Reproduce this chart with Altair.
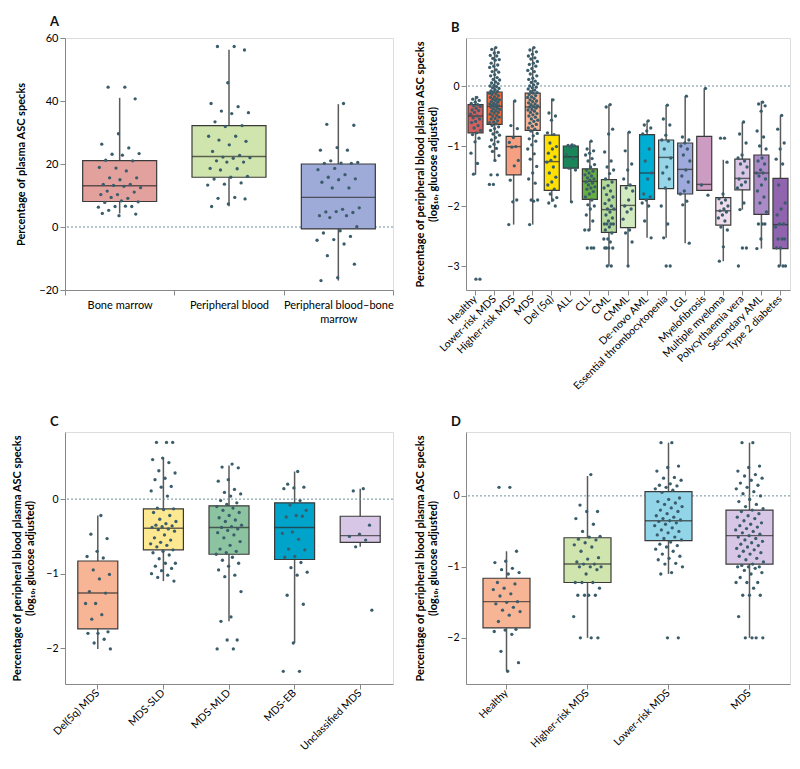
import altair as alt
import pandas as pd

FONT = "Lato"
PT_COLOR = "#3b5d6b"
ZERO_COLOR = "#6f8f9c"

# ---------------- Panel A ----------------
a_cats = ["Bone marrow", "Peripheral blood", "Peripheral blood\u2013bone marrow"]
a_colors = ["#e3a19e", "#d0e5ad", "#9eabd8"]
a_lo = [4.3, 6.6, -17.0]
a_q1 = [8.1, 15.8, -0.6]
a_med = [13.1, 22.4, 9.4]
a_q3 = [21.1, 32.2, 20.0]
a_hi = [41.0, 56.3, 39.0]
a_pts = [
    [44.4, 44.4, 40.7, 29.6, 26.3, 25.1, 23.1, 23.3, 22.8, 21.2, 21.0, 18.7, 18.9, 17.8, 15.6, 15.6,
     15.0, 13.5, 13.5, 13.2, 12.5, 12.9, 11.4, 11.1, 10.3, 10.3, 9.1, 9.4, 8.0, 8.3, 7.8, 6.5, 6.5,
     6.3, 6.6, 5.3, 4.1, 3.6, 4.3],
    [57.3, 57.3, 56.2, 45.8, 39.2, 38.2, 36.8, 36.3, 36.0, 33.4, 32.2, 31.9, 28.8, 28.8, 27.6, 27.2,
     26.1, 24.0, 22.7, 22.2, 22.0, 21.8, 21.0, 20.6, 20.6, 18.6, 18.5, 18.1, 16.1, 15.8, 15.2, 14.0,
     13.6, 13.3, 9.4, 9.1, 8.9, 7.3, 6.5],
    [39.2, 32.6, 32.3, 25.2, 24.4, 24.4, 21.0, 20.5, 20.3, 20.2, 20.2, 18.6, 18.2, 16.6, 15.8, 15.3,
     15.0, 14.2, 12.4, 12.4, 6.1, 5.6, 4.8, 4.6, 4.9, 3.6, 3.6, 3.0, 0.1, -1.2, -1.9, -3.0, -4.0,
     -4.2, -5.4, -9.1, -11.8, -16.1, -17.0],
]

# ---------------- Panel B ----------------
b_cats = ["Healthy", "Lower-risk MDS", "Higher-risk MDS", "MDS", "Del (5q)", "ALL", "CLL", "CML",
          "CMML", "De-novo AML", "Essential thrombocytopenia", "LGL", "Myelofibrosis",
          "Multiple myeloma", "Polycythaemia vera", "Secondary AML", "Type 2 diabetes"]
b_colors = ["#d4605f", "#f26b3a", "#f7a081", "#f7b394", "#ffe000", "#1a8559", "#67ae45", "#b5d89b",
            "#d2eabf", "#00aed4", "#96d6e8", "#9daadb", "#cc9cc2", "#f0ddeb", "#d9c6e4", "#aa8bc7",
            "#9164b0"]
b_lo = [-1.48, -1.24, -2.31, -2.31, -1.93, -1.93, -2.41, -3.0, -3.0, -2.53, -2.53, -2.62, -1.74,
        -2.92, -2.06, -2.71, -3.0]
b_q1 = [-0.78, -0.64, -1.48, -0.74, -1.74, -1.37, -1.89, -2.44, -2.36, -1.89, -1.71, -1.80, -1.74,
        -2.32, -1.73, -2.14, -2.71]
b_med = [-0.50, -0.34, -1.01, -0.35, -1.26, -1.18, -1.59, -2.06, -1.99, -1.45, -1.19, -1.39, -1.64,
         -2.08, -1.54, -1.45, -2.31]
b_q3 = [-0.31, -0.10, -0.84, -0.12, -0.82, -1.00, -1.38, -1.56, -1.66, -0.81, -0.90, -0.95, -0.84,
        -1.86, -1.22, -1.15, -1.54]
b_hi = [-0.17, 0.64, -0.24, 0.64, -0.21, -0.98, -0.92, -0.31, -0.77, -0.58, -0.32, -0.17, -0.04,
        -1.23, -0.60, -0.25, -0.49]
b_pts = [
    [-0.19, -0.22, -0.24, -0.27, -0.29, -0.31, -0.33, -0.34, -0.37, -0.40, -0.41, -0.44, -0.47,
     -0.50, -0.53, -0.55, -0.59, -0.61, -0.66, -0.70, -0.74, -0.78, -0.81, -0.87, -0.93, -1.12,
     -1.29, -1.47, -3.22, -3.22],
    [0.64, 0.61, 0.56, 0.55, 0.51, 0.50, 0.46, 0.44, 0.43, 0.38, 0.35, 0.33, 0.31, 0.27, 0.24,
     0.23, 0.19, 0.17, 0.14, 0.11, 0.10, 0.07, 0.05, 0.04, 0.01, 0.00, -0.01, -0.03, -0.04, -0.06,
     -0.08, -0.09, -0.10, -0.12, -0.13, -0.14, -0.16, -0.18, -0.19, -0.21, -0.22, -0.23, -0.24,
     -0.26, -0.27, -0.29, -0.30, -0.31, -0.32, -0.33, -0.34, -0.35, -0.37, -0.38, -0.39, -0.41,
     -0.42, -0.44, -0.45, -0.47, -0.49, -0.50, -0.52, -0.54, -0.55, -0.58, -0.60, -0.61, -0.63,
     -0.66, -0.68, -0.71, -0.74, -0.77, -0.80, -0.82, -0.86, -0.90, -0.93, -0.97, -1.01, -1.04,
     -1.09, -1.16, -1.24, -1.48, -1.48, -1.64, -1.64],
    [-0.25, -0.66, -0.71, -0.86, -0.94, -1.01, -1.02, -1.24, -1.33, -1.57, -1.90, -1.93, -2.31],
    [0.64, 0.60, 0.57, 0.53, 0.50, 0.47, 0.45, 0.41, 0.38, 0.36, 0.33, 0.29, 0.26, 0.24, 0.20,
     0.17, 0.13, 0.11, 0.08, 0.06, 0.04, 0.02, 0.00, -0.02, -0.03, -0.05, -0.07, -0.09, -0.11,
     -0.12, -0.14, -0.16, -0.18, -0.19, -0.21, -0.23, -0.25, -0.26, -0.28, -0.30, -0.31, -0.33,
     -0.34, -0.35, -0.37, -0.39, -0.40, -0.42, -0.44, -0.46, -0.48, -0.50, -0.52, -0.55, -0.57,
     -0.59, -0.62, -0.64, -0.67, -0.70, -0.72, -0.75, -0.79, -0.83, -0.88, -0.92, -0.98, -1.05,
     -1.13, -1.22, -1.34, -1.45, -1.55, -1.62, -1.90, -1.90, -1.92, -2.31],
    [-0.23, -0.45, -0.50, -0.57, -0.78, -0.81, -0.95, -1.01, -1.05, -1.12, -1.18, -1.24, -1.27,
     -1.35, -1.45, -1.52, -1.60, -1.65, -1.72, -1.80, -1.86, -1.90, -1.95, -2.00],
    [-0.98, -0.99, -1.00, -1.02, -1.15, -1.20, -1.37, -1.40, -1.93],
    [-0.92, -1.05, -1.08, -1.12, -1.15, -1.21, -1.25, -1.31, -1.35, -1.40, -1.42, -1.45, -1.48,
     -1.50, -1.53, -1.55, -1.57, -1.60, -1.62, -1.65, -1.68, -1.70, -1.72, -1.76, -1.80, -1.85,
     -1.90, -1.98, -2.00, -2.05, -2.15, -2.25, -2.40, -2.40, -2.70, -2.70, -2.70],
    [-0.31, -0.35, -0.72, -0.80, -1.10, -1.25, -1.35, -1.40, -1.46, -1.55, -1.60, -1.66, -1.70,
     -1.75, -1.81, -1.85, -1.90, -1.96, -2.00, -2.05, -2.05, -2.10, -2.15, -2.20, -2.25, -2.30,
     -2.30, -2.30, -2.30, -2.35, -2.40, -2.45, -2.55, -2.55, -2.60, -2.70, -2.70, -2.70, -2.70,
     -3.00, -3.00],
    [-0.77, -1.08, -1.30, -1.40, -1.55, -1.65, -1.70, -1.75, -1.90, -2.00, -2.05, -2.10, -2.22,
     -2.40, -2.45, -2.60, -3.00],
    [-0.58, -0.65, -0.70, -0.75, -0.80, -1.05, -1.25, -1.45, -1.55, -1.80, -1.85, -1.90, -1.95,
     -2.00, -2.25, -2.53],
    [-0.32, -0.55, -0.65, -0.82, -0.90, -0.92, -1.05, -1.20, -1.35, -1.45, -1.55, -1.70, -2.00,
     -2.30, -2.53, -3.00, -3.00],
    [-0.17, -0.85, -0.90, -0.95, -1.00, -1.05, -1.15, -1.25, -1.40, -1.50, -1.60, -1.75, -1.80,
     -1.92, -1.98, -2.62],
    [-0.04, -1.65, -1.82],
    [-0.87, -0.87, -1.27, -1.80, -1.88, -1.90, -1.95, -2.00, -2.05, -2.08, -2.10, -2.15, -2.20,
     -2.25, -2.35, -2.40, -2.68, -2.92],
    [-0.60, -0.80, -0.95, -1.15, -1.20, -1.25, -1.30, -1.35, -1.45, -1.55, -1.60, -1.65, -1.70,
     -1.95, -2.06, -2.70, -2.70, -3.00],
    [-0.27, -0.30, -0.33, -0.42, -0.75, -0.85, -1.00, -1.05, -1.20, -1.25, -1.30, -1.40, -1.45,
     -1.45, -1.50, -1.55, -1.65, -1.75, -1.85, -1.95, -2.10, -2.30, -2.30, -2.30, -2.55, -2.71],
    [-0.49, -0.72, -0.95, -1.05, -1.22, -1.30, -1.65, -1.95, -2.05, -2.15, -2.30, -2.30, -2.35,
     -2.55, -2.55, -2.55, -2.70, -2.70, -3.00, -3.00, -3.00],
]

# ---------------- Panel C ----------------
c_cats = ["Del(5q) MDS", "MDS-SLD", "MDS-MLD", "MDS-EB", "Unclassified MDS"]
c_colors = ["#f8b595", "#fce890", "#8cc4a2", "#00a3ca", "#d8c6e6"]
c_lo = [-2.01, -1.10, -1.64, -1.93, -0.64]
c_q1 = [-1.74, -0.68, -0.74, -0.81, -0.58]
c_med = [-1.26, -0.39, -0.38, -0.38, -0.49]
c_q3 = [-0.83, -0.13, -0.09, -0.05, -0.23]
c_hi = [-0.22, 0.55, 0.45, 0.37, 0.14]
c_pts = [
    [-0.22, -0.47, -0.53, -0.70, -0.77, -0.79, -0.95, -1.01, -1.07, -1.24, -1.26, -1.40, -1.40,
     -1.55, -1.61, -1.78, -1.80, -1.80, -1.88, -1.93, -2.01],
    [0.76, 0.76, 0.76, 0.55, 0.53, 0.49, 0.38, 0.35, 0.28, 0.26, 0.17, 0.16, 0.11, 0.04, -0.12,
     -0.13, -0.14, -0.18, -0.22, -0.27, -0.30, -0.33, -0.35, -0.36, -0.37, -0.38, -0.40, -0.41,
     -0.43, -0.48, -0.52, -0.55, -0.58, -0.60, -0.62, -0.64, -0.68, -0.70, -0.72, -0.75, -0.80,
     -0.86, -0.86, -0.90, -0.93, -0.96, -1.00, -1.02, -1.05, -1.10],
    [0.47, 0.43, 0.42, 0.26, 0.24, 0.13, 0.09, 0.07, 0.04, -0.02, -0.05, -0.07, -0.10, -0.12,
     -0.15, -0.18, -0.22, -0.25, -0.28, -0.30, -0.35, -0.37, -0.38, -0.40, -0.42, -0.45, -0.48,
     -0.52, -0.57, -0.62, -0.67, -0.70, -0.72, -0.74, -0.78, -0.82, -0.86, -0.90, -0.95, -1.02,
     -1.04, -1.24, -1.58, -1.64, -1.89, -1.89, -2.01, -2.01],
    [0.37, 0.20, 0.16, 0.15, 0.14, -0.02, -0.08, -0.15, -0.22, -0.24, -0.23, -0.44, -0.46, -0.54,
     -0.67, -0.68, -0.77, -0.78, -0.85, -0.92, -0.98, -1.02, -1.29, -1.41, -1.93, -2.31, -2.31],
    [0.14, 0.11, -0.35, -0.47, -0.50, -0.55, -0.64, -1.49],
]

# ---------------- Panel D ----------------
d_cats = ["Healthy", "Higher-risk MDS", "Lower-risk MDS", "MDS"]
d_colors = ["#f8b595", "#d0e5ad", "#93d5e8", "#d8c6e6"]
d_lo = [-2.47, -2.00, -1.10, -2.00]
d_q1 = [-1.86, -1.22, -0.63, -0.96]
d_med = [-1.49, -0.96, -0.35, -0.56]
d_q3 = [-1.16, -0.59, 0.06, -0.20]
d_hi = [-0.78, 0.28, 0.75, 0.75]
d_pts = [
    [0.12, 0.12, -0.78, -0.92, -0.94, -1.02, -1.04, -1.08, -1.10, -1.22, -1.24, -1.30, -1.32,
     -1.38, -1.41, -1.49, -1.50, -1.52, -1.57, -1.61, -1.63, -1.68, -1.77, -1.88, -1.89, -1.91,
     -1.95, -2.19, -2.35, -2.47],
    [0.30, -0.13, -0.22, -0.22, -0.32, -0.40, -0.50, -0.57, -0.58, -0.61, -0.62, -0.66, -0.69,
     -0.72, -0.78, -0.87, -0.89, -0.93, -0.96, -0.96, -1.00, -1.00, -1.00, -1.04, -1.10, -1.22,
     -1.22, -1.22, -1.30, -1.40, -1.40, -1.40, -1.40, -1.70, -2.00, -2.00, -2.00],
    [0.75, 0.75, 0.42, 0.40, 0.35, 0.26, 0.25, 0.22, 0.17, 0.15, 0.14, 0.12, 0.10, 0.08, 0.05,
     -0.03, -0.05, -0.08, -0.10, -0.12, -0.15, -0.17, -0.20, -0.22, -0.25, -0.28, -0.30, -0.32,
     -0.34, -0.35, -0.36, -0.38, -0.40, -0.42, -0.45, -0.48, -0.50, -0.52, -0.55, -0.58, -0.60,
     -0.62, -0.65, -0.68, -0.70, -0.72, -0.75, -0.78, -0.82, -0.85, -0.88, -0.90, -0.95, -0.96,
     -1.00, -1.08, -1.10, -2.00, -2.00],
    [0.75, 0.75, 0.42, 0.40, 0.35, 0.30, 0.28, 0.25, 0.22, 0.18, 0.15, 0.12, 0.10, 0.06, 0.03,
     0.00, -0.05, -0.08, -0.12, -0.15, -0.18, -0.20, -0.22, -0.25, -0.28, -0.30, -0.32, -0.35,
     -0.38, -0.40, -0.42, -0.44, -0.46, -0.48, -0.50, -0.52, -0.54, -0.56, -0.58, -0.60, -0.62,
     -0.64, -0.66, -0.68, -0.70, -0.72, -0.74, -0.76, -0.78, -0.80, -0.82, -0.85, -0.88, -0.90,
     -0.93, -0.96, -0.98, -1.00, -1.00, -1.00, -1.02, -1.05, -1.08, -1.10, -1.15, -1.22, -1.22,
     -1.22, -1.30, -1.40, -1.40, -1.40, -1.70, -2.00, -2.00, -2.00, -2.00],
]

LOG_TITLE = ["Percentage of peripheral blood plasma ASC specks", "(log\u2081\u2080, glucose adjusted)"]
A_LABEL_EXPR = ("datum.value == 'Peripheral blood\u2013bone marrow' ? "
                "['Peripheral blood\u2013bone', 'marrow'] : datum.label")


def panel(letter, cats, colors, lo, q1, med, q3, hi, pts, ydom, yticks, width, height,
          boxsize, spread, ytitle, label_angle, tick_band, title_pad, extent, label_size):
    box = pd.DataFrame(dict(cat=cats, lo=lo, q1=q1, med=med, q3=q3, hi=hi))
    rows = []
    for c, vals in zip(cats, pts):
        for i, v in enumerate(vals):
            j = ((i + 1) * 0.6180339887) % 1 - 0.5
            rows.append(dict(cat=c, v=v, j=j * spread))
    pdf = pd.DataFrame(rows)
    step = width / len(cats)

    xscale = alt.Scale(type="band", domain=cats, paddingInner=0, paddingOuter=0)
    if label_angle == 0:
        xaxis = alt.Axis(title=None, labelAngle=0, tickBand=tick_band, labelFontSize=label_size,
                         labelPadding=4, grid=False, labelExpr=A_LABEL_EXPR, labelLineHeight=14)
    else:
        xaxis = alt.Axis(title=None, labelAngle=label_angle, labelAlign="right",
                         labelBaseline="middle", tickBand=tick_band, labelFontSize=label_size,
                         labelPadding=2, grid=False)
    x = alt.X("cat:N", sort=cats, scale=xscale, axis=xaxis)
    yscale = alt.Scale(domain=ydom, nice=False, zero=False)
    yaxis = alt.Axis(title=ytitle, values=yticks, titlePadding=title_pad, labelFontSize=label_size,
                     grid=False, format="d", minExtent=extent, maxExtent=extent)
    color = alt.Color("cat:N", scale=alt.Scale(domain=cats, range=colors), legend=None)

    base = alt.Chart(box)
    whisk = base.mark_rule(color="#5a5a5a", strokeWidth=1.5).encode(
        x=x, y=alt.Y("lo:Q", scale=yscale, axis=yaxis), y2="hi:Q")
    bars = base.mark_bar(size=boxsize, stroke="#3a3a3a", strokeWidth=1.2).encode(
        x=x, y="q1:Q", y2="q3:Q", color=color)
    medl = base.mark_tick(size=boxsize, thickness=1.4, color="#2a2a2a").encode(
        x=x, y="med:Q")
    zero = alt.Chart(pd.DataFrame({"z": [0]})).mark_rule(
        color=ZERO_COLOR, strokeDash=[2, 2], strokeWidth=1).encode(y="z:Q")
    dots = alt.Chart(pdf).mark_circle(size=11, color=PT_COLOR, opacity=1).encode(
        x=x, y="v:Q",
        xOffset=alt.XOffset("j:Q", scale=alt.Scale(domain=[-0.5, 0.5], range=[0, step])))
    return alt.layer(whisk, zero, bars, medl, dots).resolve_scale(
        color="independent").properties(
        width=width, height=height,
        title=alt.TitleParams(letter, anchor="start", frame="group", dx=-15, fontSize=13,
                              fontWeight="bold", font=FONT, color="#111", offset=3))


A = panel("A", a_cats, a_colors, a_lo, a_q1, a_med, a_q3, a_hi, a_pts, [-20, 60],
          [-20, 0, 20, 40, 60], 328, 252, 74, 0.4, "Percentage of plasma ASC specks", 0,
          "extent", 13, 26, 11)
B = panel("B", b_cats, b_colors, b_lo, b_q1, b_med, b_q3, b_hi, b_pts, [-3.4, 0.8],
          [-3, -2, -1, 0], 324, 252, 15, 0.55, LOG_TITLE, -45, "center", 8, 20, 10.5)
C = panel("C", c_cats, c_colors, c_lo, c_q1, c_med, c_q3, c_hi, c_pts, [-2.48, 0.9],
          [-2, -1, 0], 328, 252, 40, 0.4, LOG_TITLE, -45, "center", 10, 20, 10.5)
D = panel("D", d_cats, d_colors, d_lo, d_q1, d_med, d_q3, d_hi, d_pts, [-2.65, 0.9],
          [-2, -1, 0], 324, 252, 47, 0.35, LOG_TITLE, -45, "center", 8, 20, 10.5)

chart = alt.concat(A, B, C, D, columns=2, spacing={"row": 23, "column": 19}).resolve_scale(
    color="independent", x="independent", y="independent", xOffset="independent"
).properties(padding={"left": 2, "top": 7, "right": 0, "bottom": 0}).configure_view(
    stroke=None
).configure_axis(
    grid=False, domainColor="#333", tickColor="#333", labelColor="#333", titleColor="#333",
    labelFont=FONT, titleFont=FONT, titleFontWeight="normal", titleFontSize=10.5,
    tickSize=6, labelPadding=2, domainWidth=1.2, tickWidth=1.2
).configure(font=FONT)

chart.save("out.html", embed_options={"renderer": "svg", "actions": False})
